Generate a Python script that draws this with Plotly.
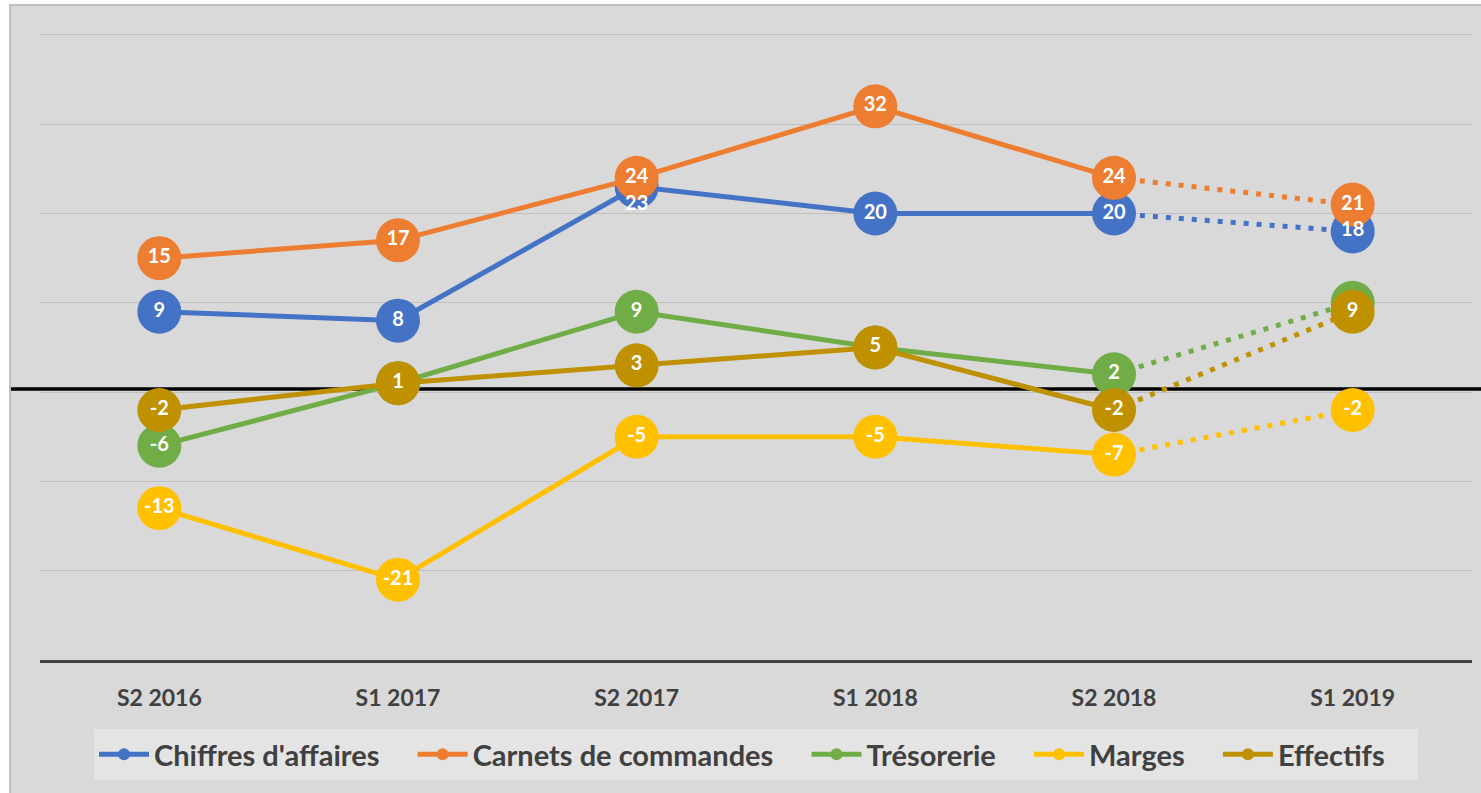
import plotly.graph_objects as go

categories = ["S2 2016", "S1 2017", "S2 2017", "S1 2018", "S2 2018", "S1 2019"]

series_names = ["Chiffres d'affaires", "Carnets de commandes", "Trésorerie", "Marges", "Effectifs"]
chiffres = [9, 8, 23, 20, 20, 18]
carnets = [15, 17, 24, 32, 24, 21]
tresorerie = [-6, 1, 9, 5, 2, 10]
marges = [-13, -21, -5, -5, -7, -2]
effectifs = [-2, 1, 3, 5, -2, 9]

# labels shown (None = hidden, as in the reference)
labels_chiffres = [9, 8, 23, 20, 20, 18]
labels_carnets = [15, 17, 24, 32, 24, 21]
labels_tresorerie = [-6, None, 9, None, 2, None]
labels_marges = [-13, -21, -5, -5, -7, -2]
labels_effectifs = [-2, 1, 3, 5, -2, 9]

colors = ["#4472C4", "#ED7D31", "#70AD47", "#FFC000", "#BF9000"]
values = [chiffres, carnets, tresorerie, marges, effectifs]
labels = [labels_chiffres, labels_carnets, labels_tresorerie, labels_marges, labels_effectifs]

FONT = "Lato"
MS = 44
LW = 5
GAP = "\u00a0" * 4

fig = go.Figure()

for name, vals, col in zip(series_names, values, colors):
    fig.add_trace(go.Scatter(
        x=categories[:5], y=vals[:5], mode="lines+markers", name=name + GAP,
        line=dict(color=col, width=LW),
        marker=dict(color=col, size=MS),
        showlegend=True, hoverinfo="skip",
    ))
    fig.add_trace(go.Scatter(
        x=categories[4:], y=vals[4:], mode="lines",
        line=dict(color=col, width=5, dash="5px,8px"),
        showlegend=False, hoverinfo="skip",
    ))
    fig.add_trace(go.Scatter(
        x=categories[5:], y=vals[5:], mode="markers",
        marker=dict(color=col, size=MS),
        showlegend=False, hoverinfo="skip",
    ))

for k, (vals, labs) in enumerate(zip(values, labels)):
    xs = [c for c, l in zip(categories, labs) if l is not None]
    ys = [v for v, l in zip(vals, labs) if l is not None]
    ts = [str(l) for l in labs if l is not None]
    pos = ["middle center"] * len(ts)
    sizes = [0] * len(ts)
    if k == 0:
        # "23" sits just below its marker centre, under the orange "24"
        i = xs.index("S2 2017")
        pos[i] = "bottom center"
        sizes[i] = 12
    fig.add_trace(go.Scatter(
        x=xs, y=ys, mode="markers+text", text=ts, textposition=pos,
        marker=dict(size=sizes, opacity=0),
        textfont=dict(family=FONT, size=20, color="white", weight="bold"),
        showlegend=False, hoverinfo="skip",
    ))

L, R, T, B = 40, 9, 26, 133
W, H = 1481, 793
pw, ph = W - L - R, H - T - B

def px_x(p):
    return (p - L) / pw

def px_y(p):
    return (H - B - p) / ph

shapes = [
    dict(type="rect", xref="paper", yref="paper", layer="below",
         x0=px_x(10), x1=px_x(1495), y0=px_y(805), y1=px_y(5),
         fillcolor="#d9d9d9", line=dict(color="#bfbfbf", width=2)),
    dict(type="line", xref="paper", yref="paper", layer="below",
         x0=px_x(11), x1=px_x(1481), y0=px_y(389), y1=px_y(389),
         line=dict(color="black", width=3.5)),
]

fig.update_layout(
    width=W, height=H,
    margin=dict(l=L, r=R, t=T, b=B),
    paper_bgcolor="white",
    plot_bgcolor="rgba(0,0,0,0)",
    shapes=shapes,
    font=dict(family=FONT, color="#404040"),
    xaxis=dict(
        type="category", range=[-0.5, 5.5], showgrid=False, zeroline=False,
        showline=True, linecolor="#404040", linewidth=3,
        tickfont=dict(family=FONT, size=23, color="#404040", weight="bold"),
        ticks="", ticklabelstandoff=15,
    ),
    yaxis=dict(
        range=[-30, 41], tickvals=[-30, -20, -10, 0, 10, 20, 30, 40],
        showgrid=True, gridcolor="#c0c0c0", gridwidth=1,
        zeroline=False, showticklabels=False, showline=False, ticks="",
    ),
    legend=dict(
        orientation="h", x=0.5, xanchor="center", y=px_y(729), yanchor="top",
        bgcolor="#e4e4e4", font=dict(family=FONT, size=29, color="#404040", weight="bold"),
        itemsizing="constant", traceorder="normal", itemwidth=50,
    ),
    showlegend=True,
)

fig.write_html(
    "out.html",
    config={"displayModeBar": False},
    post_script="document.body.style.margin='0px';document.body.style.overflow='hidden';",
)
